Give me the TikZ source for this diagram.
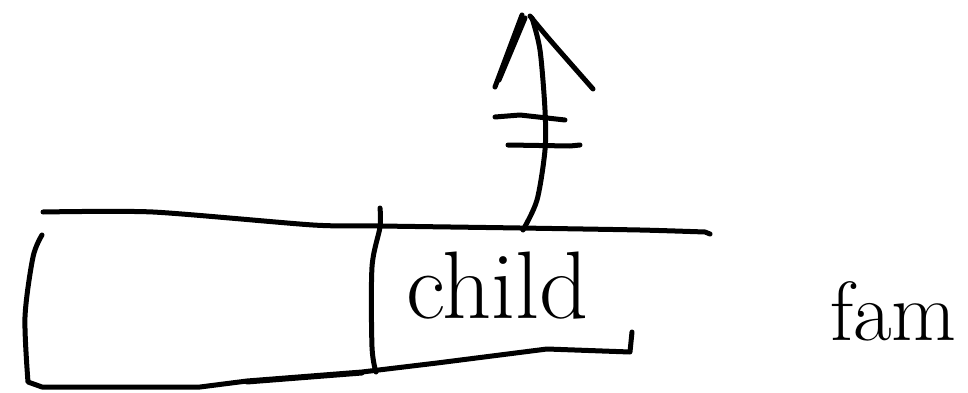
\documentclass[tikz,border=0pt]{standalone}
\begin{document}
\begin{tikzpicture}[x=1pt,y=-1pt,
  ink/.style={line width=5pt,line cap=round,line join=round,black},
  handtext/.style={inner sep=0pt,anchor=base west}]
\useasboundingbox[fill=white] (0,0) rectangle (968,393);
% top long line
\draw[ink] plot[smooth,tension=0.4] coordinates {(43,212) (153,212) (313,225) (380,226) (520,228) (640,230) (705,232)} -- (710,234);
% left side of box and bottom
\draw[ink] plot[smooth,tension=0.5] coordinates {(42,235) (33,257) (25,317) (28,382)} -- (42,387) -- (200,387) -- (247,381) -- (362,372) -- (437,363) -- (547,349) -- (630,352) -- (632,332);
\draw[ink] (247,382) -- (362,373);
% middle divider
\draw[ink] plot[smooth,tension=0.5] coordinates {(380,208) (380,227) (372,267) (372,347) (376,372)};
% arrow shaft
\draw[ink] plot[smooth,tension=0.5] coordinates {(523,230) (537,200) (545,150) (545,110) (540,50) (532,18)};
% arrow head
\draw[ink] (495,87) -- (522,15);
\draw[ink] (499,80) -- (525,18);
\draw[ink] plot[smooth,tension=0.5] coordinates {(530,16) (550,40) (593,89)};
% cross bars
\draw[ink] (495,117) -- (520,115) -- (565,120);
\draw[ink] (508,145) -- (570,146) -- (580,145);
% labels
\node[handtext] (child) at (406,318) {\fontsize{96}{96}\selectfont child};
\node[handtext] (fam) at (830,340) {\fontsize{84}{84}\selectfont fam};
\end{tikzpicture}
\end{document}
